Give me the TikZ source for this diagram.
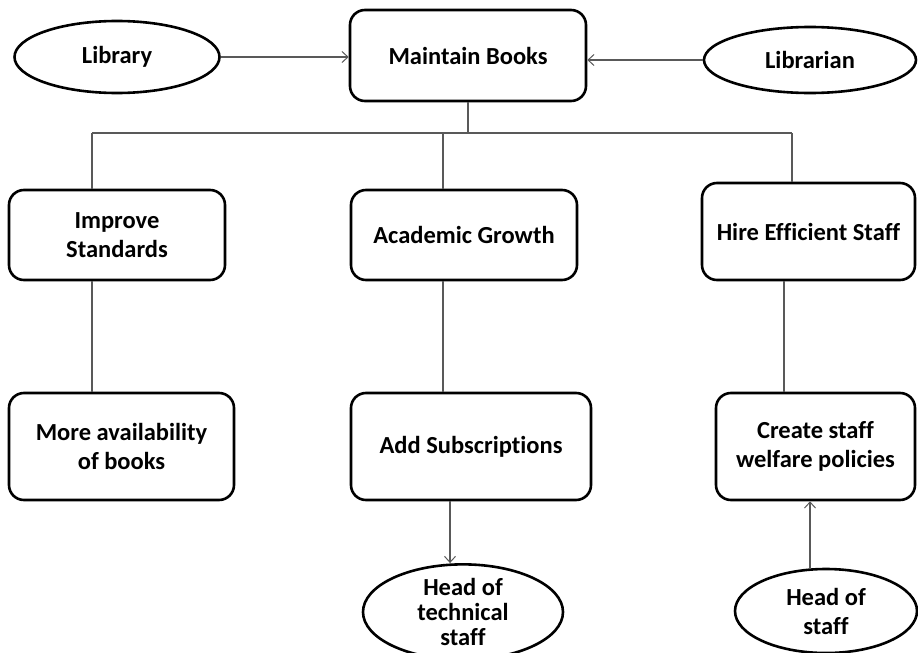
\documentclass[tikz,border=0pt]{standalone}
\usepackage{fontspec}
\setmainfont[Ligatures=NoCommon]{Carlito}
\usetikzlibrary{arrows.meta,shapes.geometric}
\tikzset{
  box/.style={draw=black, line width=2.6pt, rounded corners=15pt, align=center, inner sep=0pt, font=\fontsize{24.5}{29}\selectfont\bfseries},
  oval/.style={draw=black, line width=2.6pt, ellipse, align=center, inner sep=0pt, font=\fontsize{24.5}{29}\selectfont\bfseries},
  tightoval/.style={oval, font=\fontsize{24.5}{25}\selectfont\bfseries},
  link/.style={draw=black!65, line width=1.1pt},
  arrowlink/.style={link, -{Straight Barb[length=6pt,width=11pt,line width=1pt]}}
}
\begin{document}
\begin{tikzpicture}[x=1pt,y=-1pt]
\useasboundingbox (0,0) rectangle (918,653);
% top row
\node[oval, minimum width=205, minimum height=72] (lib) at (117,57) {Library};
\node[box, minimum width=236, minimum height=91] (maint) at (468,55.5) {Maintain Books};
\node[oval, minimum width=212, minimum height=66] (libn) at (810,60) {Librarian};
% middle row
\node[box, minimum width=216, minimum height=90] (imp) at (117,235) {Improve\\Standards};
\node[box, minimum width=226, minimum height=90] (acad) at (464,235) {Academic Growth};
\node[box, minimum width=213, minimum height=97] (hire) at (808.5,231.5) {Hire Efficient Staff};
% lower row
\node[box, minimum width=225, minimum height=107] (more) at (121.5,446.5) {More availability\\of books};
\node[box, minimum width=240, minimum height=107] (adds) at (471,446.5) {Add Subscriptions};
\node[box, minimum width=199, minimum height=107] (create) at (815.5,446.5) {Create staff\\welfare policies};
% bottom ellipses
\node[tightoval, minimum width=200, minimum height=84] (htech) at (463,612) {Head of\\technical\\staff};
\node[oval, minimum width=182, minimum height=84] (hstaff) at (826,611) {Head of\\staff};
% bus coordinates
\coordinate (b1) at (92,133);
\coordinate (b2) at (443,133);
\coordinate (b3) at (792,133);
\coordinate (c3) at (784,0);
\coordinate (d1) at (450,0);
\coordinate (d2) at (810,0);
% arrows into Maintain Books
\draw[arrowlink] (lib.east) -- (lib.east -| maint.west);
\draw[arrowlink] (libn.west) -- (libn.west -| maint.east);
% tree
\draw[link] (maint.south) -- (maint.south |- b1);
\draw[link] (b1) -- (b3);
\draw[link] (b1) -- (b1 |- imp.north);
\draw[link] (b2) -- (b2 |- acad.north);
\draw[link] (b3) -- (b3 |- hire.north);
% verticals
\draw[link] (b1 |- imp.south) -- (b1 |- more.north);
\draw[link] (b2 |- acad.south) -- (b2 |- adds.north);
\draw[link] (c3 |- hire.south) -- (c3 |- create.north);
% bottom arrows
\draw[arrowlink] (d1 |- adds.south) -- (d1 |- htech.north);
\draw[arrowlink] (d2 |- hstaff.north) -- (d2 |- create.south);
\end{tikzpicture}
\end{document}
